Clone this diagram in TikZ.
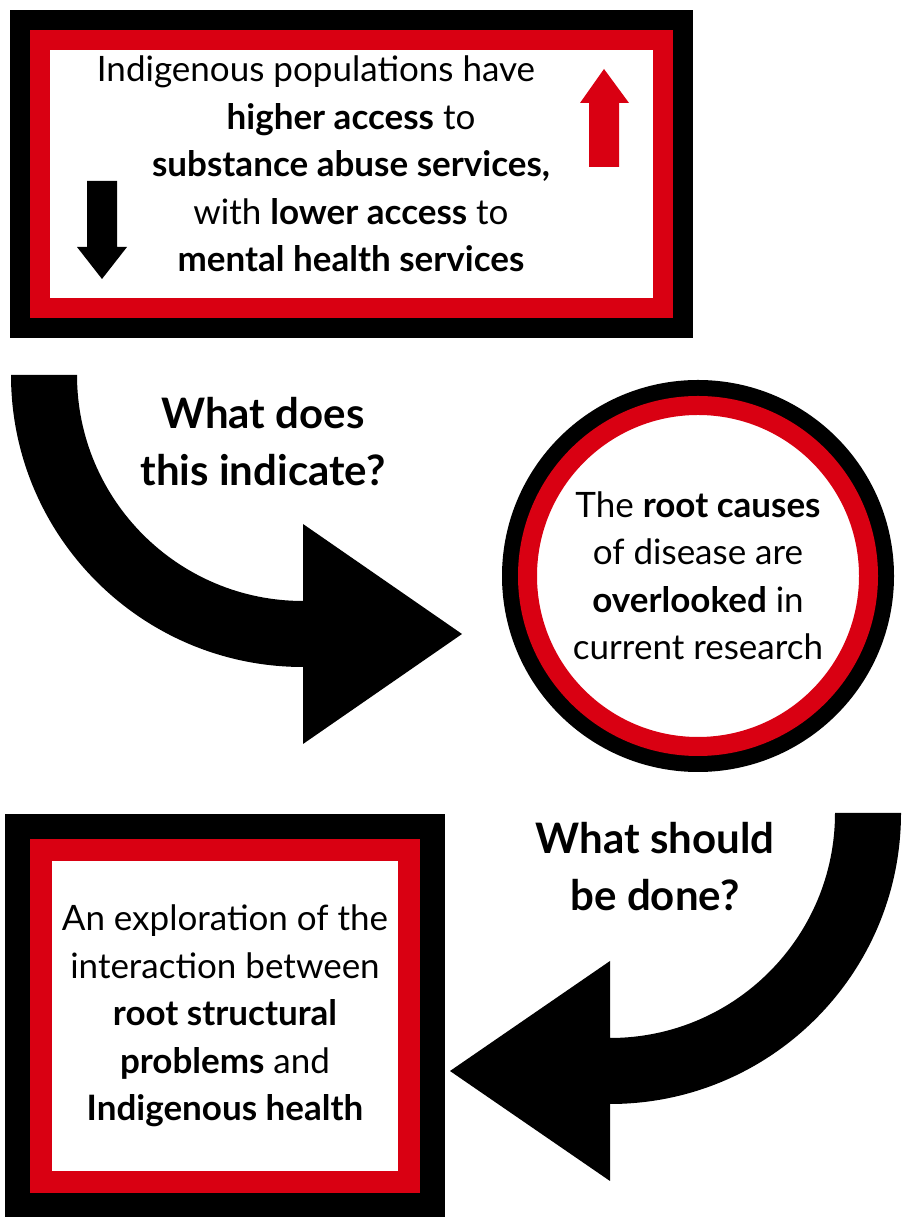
\documentclass[tikz,border=0pt]{standalone}
\usepackage{fontspec}
\setmainfont{Lato}
\definecolor{boxred}{RGB}{217,0,18}

\tikzset{
  framebox/.style={fill=white, draw=boxred, inner sep=0pt},
  blackrim/.style={preaction={draw=black, line width=#1}},
  bodytext/.style={align=center, font=\fontsize{35}{47.5}\selectfont},
  asktext/.style={align=center, font=\fontsize{42}{57}\selectfont\bfseries},
  bigarrow/.style={fill=black}
}

\begin{document}
\begin{tikzpicture}[x=1pt, y=1pt]
\useasboundingbox (0,0) rectangle (906,1217);

% the three framed blocks
\node (top) [framebox, blackrim=60pt, line width=20pt,
  minimum width=623pt, minimum height=268pt] at (351.5,1043) {};
\node (topnote) [bodytext] at (351,1053)
  {Indigenous populations have\hspace*{70pt}\\
   \textbf{higher access} to\\
   \textbf{substance abuse services,}\\
   with \textbf{lower access} to\\
   \textbf{mental health services}};

\node (causes) [framebox, circle, blackrim=51pt, line width=19pt,
  minimum size=341pt, bodytext] at (698,641)
  {The \textbf{root causes}\\
   of disease are\\
   \textbf{overlooked} in\\
   current research};

\node (explore) [framebox, blackrim=72pt, line width=22pt,
  minimum width=367.5pt, minimum height=332.5pt, bodytext] at (225,201)
  {An exploration of the\\
   interaction between\\
   \textbf{root structural}\\
   \textbf{problems} and\\
   \textbf{Indigenous health}};

% up and down markers in the top block
\fill[boxred] (589,1050) -- (619,1050) -- (619,1114) -- (629,1114)
  -- (604,1148) -- (580,1114) -- (589,1114) -- cycle;
\fill[black] (87,1036) -- (117,1036) -- (117,970) -- (127,970)
  -- (102,938) -- (77,970) -- (87,970) -- cycle;

% curved arrows
\fill[bigarrow] (11,842) arc[start angle=180, end angle=270, radius=292]
  -- (303,473) -- (462,583) -- (303,693) -- (303,616)
  arc[start angle=270, end angle=180, radius=226] -- cycle;
\fill[bigarrow] (901,404) arc[start angle=0, end angle=-90, radius=291]
  -- (610,36) -- (450,146) -- (610,256) -- (610,179)
  arc[start angle=-90, end angle=0, radius=225] -- cycle;

\node (ask1) [asktext] at (263,775) {What does\\ this indicate?};
\node (ask2) [asktext] at (655,350) {What should\\ be done?};
\end{tikzpicture}
\end{document}
